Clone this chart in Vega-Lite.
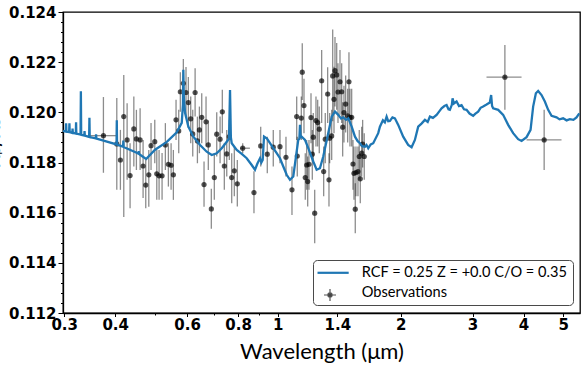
{
  "$schema": "https://vega.github.io/schema/vega-lite/v6.json",
  "width": 517,
  "height": 301,
  "autosize": "none",
  "padding": {"left": 63, "top": 12, "right": 6, "bottom": 58},
  "background": "white",
  "config": {"view": {"stroke": "black", "strokeWidth": 1.3}, "font": "DejaVu Sans", "axis": {"labelOverlap": false, "grid": false}},
  "resolve": {"axis": {"x": "independent", "y": "independent"}, "scale": {"color": "independent"}, "legend": {"color": "independent"}},
  "datasets": {
    "model": [
      {"w":0.298,"v":0.11926},{"w":0.301,"v":0.11924},{"w":0.3028,"v":0.11923},{"w":0.3033,"v":0.11956},{"w":0.3038,"v":0.11923},
      {"w":0.3085,"v":0.11921},{"w":0.309,"v":0.11956},{"w":0.3095,"v":0.11921},{"w":0.314,"v":0.11918},{"w":0.3145,"v":0.11935},{"w":0.315,"v":0.11918},
      {"w":0.3203,"v":0.11915},{"w":0.3208,"v":0.1196},{"w":0.3213,"v":0.11915},{"w":0.329,"v":0.11911},{"w":0.3296,"v":0.12084},{"w":0.3302,"v":0.1191},
      {"w":0.336,"v":0.11907},{"w":0.3365,"v":0.11925},{"w":0.337,"v":0.11907},{"w":0.3453,"v":0.11902},{"w":0.3459,"v":0.11978},{"w":0.3465,"v":0.11901},
      {"w":0.3585,"v":0.11896},{"w":0.3591,"v":0.11912},{"w":0.3597,"v":0.11895},{"w":0.3673,"v":0.11891},{"w":0.403,"v":0.11872},{"w":0.4036,"v":0.11968},{"w":0.4042,"v":0.11871},
      {"w":0.4111,"v":0.11867},{"w":0.4182,"v":0.11863},{"w":0.4188,"v":0.11888},{"w":0.4194,"v":0.11862},{"w":0.45,"v":0.1184},{"w":0.4562,"v":0.11835},{"w":0.4568,"v":0.11845},{"w":0.4574,"v":0.11834},
      {"w":0.4603,"v":0.11831},{"w":0.4762,"v":0.11814},{"w":0.5008,"v":0.11851},{"w":0.5352,"v":0.11882},{"w":0.566,"v":0.1192},{"w":0.5821,"v":0.11958},{"w":0.586,"v":0.1203},{"w":0.5874,"v":0.1217},{"w":0.589,"v":0.1206},
      {"w":0.5931,"v":0.11998},{"w":0.6042,"v":0.11943},{"w":0.6216,"v":0.11903},{"w":0.6454,"v":0.1187},{"w":0.6701,"v":0.11843},{"w":0.6894,"v":0.1183},{"w":0.7091,"v":0.11837},{"w":0.7294,"v":0.11857},
      {"w":0.7503,"v":0.11883},{"w":0.76,"v":0.11895},{"w":0.7643,"v":0.12089},{"w":0.768,"v":0.119},{"w":0.7716,"v":0.11877},{"w":0.7937,"v":0.1185},{"w":0.8164,"v":0.11834},{"w":0.8396,"v":0.11817},
      {"w":0.8637,"v":0.1179},{"w":0.8798,"v":0.11771},{"w":0.8915,"v":0.11795},{"w":0.9052,"v":0.11817},{"w":0.912,"v":0.118},{"w":0.919,"v":0.1181},{"w":0.9258,"v":0.11903},{"w":0.9414,"v":0.11895},
      {"w":0.9576,"v":0.11877},{"w":0.9755,"v":0.11857},{"w":0.9944,"v":0.11837},{"w":1.013,"v":0.11817},{"w":1.0321,"v":0.11784},{"w":1.052,"v":0.11751},{"w":1.0717,"v":0.11731},{"w":1.0918,"v":0.11744},
      {"w":1.1087,"v":0.11824},{"w":1.123,"v":0.1189},{"w":1.13,"v":0.11895},{"w":1.134,"v":0.1195},{"w":1.138,"v":0.119},{"w":1.1449,"v":0.11903},{"w":1.1664,"v":0.1189},{"w":1.1884,"v":0.11857},
      {"w":1.2222,"v":0.11804},{"w":1.2457,"v":0.11771},{"w":1.269,"v":0.11777},{"w":1.2929,"v":0.11824},{"w":1.3297,"v":0.11917},{"w":1.3561,"v":0.11983},{"w":1.3814,"v":0.12003},{"w":1.4074,"v":0.1199},
      {"w":1.43,"v":0.11975},{"w":1.4475,"v":0.1198},{"w":1.47,"v":0.1197},{"w":1.4889,"v":0.11976},{"w":1.5178,"v":0.11943},{"w":1.5463,"v":0.11903},{"w":1.57,"v":0.11885},{"w":1.5905,"v":0.11877},
      {"w":1.61,"v":0.11865},{"w":1.6358,"v":0.11863},{"w":1.65,"v":0.1187},{"w":1.6665,"v":0.11857},{"w":1.69,"v":0.11872},{"w":1.7139,"v":0.11877},{"w":1.7628,"v":0.11917},{"w":1.7798,"v":0.11943},
      {"w":1.81,"v":0.11968},{"w":1.83,"v":0.1196},{"w":1.8483,"v":0.11983},{"w":1.865,"v":0.11965},{"w":1.8829,"v":0.11966},{"w":1.91,"v":0.1198},{"w":1.9368,"v":0.11976},{"w":1.9733,"v":0.1195},
      {"w":2.0293,"v":0.11903},{"w":2.0871,"v":0.1187},{"w":2.1277,"v":0.11861},{"w":2.1677,"v":0.1189},{"w":2.2085,"v":0.11943},{"w":2.25,"v":0.11955},{"w":2.2938,"v":0.1197},{"w":2.33,"v":0.11962},
      {"w":2.3593,"v":0.11983},{"w":2.4,"v":0.11978},{"w":2.45,"v":0.1199},{"w":2.49,"v":0.12005},{"w":2.5197,"v":0.12016},{"w":2.56,"v":0.12025},{"w":2.5917,"v":0.12029},{"w":2.62,"v":0.12012},
      {"w":2.6405,"v":0.1201},{"w":2.67,"v":0.1203},{"w":2.681,"v":0.12056},{"w":2.7,"v":0.12035},{"w":2.7422,"v":0.12043},{"w":2.78,"v":0.12025},{"w":2.8202,"v":0.12029},{"w":2.86,"v":0.12012},
      {"w":2.901,"v":0.1201},{"w":2.95,"v":0.11995},{"w":3.0108,"v":0.11986},{"w":3.05,"v":0.11995},{"w":3.0966,"v":0.12003},{"w":3.14,"v":0.12018},{"w":3.1853,"v":0.12023},{"w":3.24,"v":0.1203},
      {"w":3.3077,"v":0.12039},{"w":3.3323,"v":0.12069},{"w":3.35,"v":0.12025},{"w":3.37,"v":0.12016},{"w":3.4674,"v":0.1201},{"w":3.5661,"v":0.1199},{"w":3.6681,"v":0.1195},{"w":3.7726,"v":0.11917},
      {"w":3.8803,"v":0.11893},{"w":3.9561,"v":0.11886},{"w":4.069,"v":0.11901},{"w":4.1618,"v":0.1193},{"w":4.223,"v":0.12023},{"w":4.2884,"v":0.12076},{"w":4.3442,"v":0.12085},{"w":4.428,"v":0.12069},
      {"w":4.5112,"v":0.12043},{"w":4.5961,"v":0.1201},{"w":4.6848,"v":0.11986},{"w":4.8183,"v":0.1198},{"w":4.9,"v":0.11972},{"w":5.0003,"v":0.11976},{"w":5.1,"v":0.11968},{"w":5.1929,"v":0.11973},
      {"w":5.3,"v":0.1197},{"w":5.3929,"v":0.1198},{"w":5.478,"v":0.11996}
    ],
    "obs": [
      {"w":0.3743,"v":0.11907,"lo":0.11759,"hi":0.12061,"wlo":0.3472,"whi":0.4036},
      {"w":0.4036,"v":0.11874,"lo":0.11691,"hi":0.12057},
      {"w":0.4119,"v":0.1181,"lo":0.11691,"hi":0.1193},
      {"w":0.4198,"v":0.11983,"lo":0.11583,"hi":0.12149},
      {"w":0.4278,"v":0.1189,"lo":0.11731,"hi":0.12036},
      {"w":0.435,"v":0.11748,"lo":0.11618,"hi":0.11877},
      {"w":0.4443,"v":0.11934,"lo":0.11784,"hi":0.12063},
      {"w":0.4508,"v":0.11894,"lo":0.1177,"hi":0.1201},
      {"w":0.4603,"v":0.1189,"lo":0.1177,"hi":0.12016},
      {"w":0.4681,"v":0.11786,"lo":0.11658,"hi":0.1189},
      {"w":0.4752,"v":0.1171,"lo":0.11618,"hi":0.1181},
      {"w":0.4834,"v":0.11751,"lo":0.11624,"hi":0.1185},
      {"w":0.4896,"v":0.11867,"lo":0.1177,"hi":0.11957},
      {"w":0.5,"v":0.11883,"lo":0.11797,"hi":0.1197},
      {"w":0.5057,"v":0.11755,"lo":0.11651,"hi":0.1185},
      {"w":0.5123,"v":0.11747,"lo":0.11651,"hi":0.1185},
      {"w":0.521,"v":0.11747,"lo":0.11651,"hi":0.11838},
      {"w":0.5308,"v":0.1187,"lo":0.1177,"hi":0.11957},
      {"w":0.5399,"v":0.11793,"lo":0.11704,"hi":0.11877},
      {"w":0.5482,"v":0.11789,"lo":0.11691,"hi":0.11877},
      {"w":0.5553,"v":0.11751,"lo":0.11651,"hi":0.1185},
      {"w":0.5637,"v":0.1197,"lo":0.1189,"hi":0.1205},
      {"w":0.5723,"v":0.11926,"lo":0.11837,"hi":0.1201},
      {"w":0.5775,"v":0.12082,"lo":0.12002,"hi":0.1216},
      {"w":0.5874,"v":0.12116,"lo":0.12023,"hi":0.12213},
      {"w":0.5963,"v":0.12079,"lo":0.11982,"hi":0.12181},
      {"w":0.6042,"v":0.12039,"lo":0.11938,"hi":0.12141},
      {"w":0.6124,"v":0.11974,"lo":0.11877,"hi":0.12063},
      {"w":0.6194,"v":0.11914,"lo":0.11824,"hi":0.1201},
      {"w":0.6277,"v":0.12079,"lo":0.11983,"hi":0.12176},
      {"w":0.6359,"v":0.11886,"lo":0.11797,"hi":0.11983},
      {"w":0.6431,"v":0.1193,"lo":0.11837,"hi":0.12023},
      {"w":0.6516,"v":0.1198,"lo":0.11877,"hi":0.12076},
      {"w":0.6601,"v":0.11712,"lo":0.11624,"hi":0.11804},
      {"w":0.6676,"v":0.11962,"lo":0.11864,"hi":0.12063},
      {"w":0.6762,"v":0.1187,"lo":0.1177,"hi":0.11967},
      {"w":0.6878,"v":0.11615,"lo":0.11536,"hi":0.11695},
      {"w":0.6995,"v":0.1174,"lo":0.11651,"hi":0.11837},
      {"w":0.7091,"v":0.11913,"lo":0.11824,"hi":0.12},
      {"w":0.7226,"v":0.11893,"lo":0.11797,"hi":0.11983},
      {"w":0.7318,"v":0.12002,"lo":0.11917,"hi":0.1209},
      {"w":0.7401,"v":0.11786,"lo":0.11691,"hi":0.11877},
      {"w":0.7503,"v":0.11834,"lo":0.11744,"hi":0.1193},
      {"w":0.7613,"v":0.11903,"lo":0.1181,"hi":0.1197},
      {"w":0.7716,"v":0.1174,"lo":0.11638,"hi":0.11837},
      {"w":0.783,"v":0.11767,"lo":0.11665,"hi":0.11863},
      {"w":0.7964,"v":0.11715,"lo":0.11625,"hi":0.1181},
      {"w":0.8209,"v":0.11857,"lo":0.11837,"hi":0.11877,"wlo":0.809,"whi":0.855},
      {"w":0.8748,"v":0.1168,"lo":0.11598,"hi":0.11765},
      {"w":0.9087,"v":0.11866,"lo":0.11784,"hi":0.11943},
      {"w":0.943,"v":0.11833,"lo":0.11757,"hi":0.11903},
      {"w":0.9754,"v":0.11861,"lo":0.11784,"hi":0.1193},
      {"w":1.013,"v":0.11863,"lo":0.11797,"hi":0.1193},
      {"w":1.0478,"v":0.11821,"lo":0.11744,"hi":0.11903},
      {"w":1.0839,"v":0.11691,"lo":0.11591,"hi":0.11784},
      {"w":1.1131,"v":0.11983,"lo":0.1189,"hi":0.12063},
      {"w":1.1168,"v":0.11826,"lo":0.11744,"hi":0.11903},
      {"w":1.1424,"v":0.11977,"lo":0.1189,"hi":0.12063},
      {"w":1.1486,"v":0.1216,"lo":0.12049,"hi":0.12275},
      {"w":1.1598,"v":0.12027,"lo":0.11917,"hi":0.12134},
      {"w":1.1683,"v":0.1174,"lo":0.11651,"hi":0.11837},
      {"w":1.1776,"v":0.1179,"lo":0.11691,"hi":0.1189},
      {"w":1.1843,"v":0.11724,"lo":0.11625,"hi":0.11824},
      {"w":1.193,"v":0.11793,"lo":0.11691,"hi":0.1189},
      {"w":1.2066,"v":0.11979,"lo":0.11877,"hi":0.12076},
      {"w":1.2155,"v":0.11833,"lo":0.11731,"hi":0.1193},
      {"w":1.2223,"v":0.11901,"lo":0.11797,"hi":0.11997},
      {"w":1.2321,"v":0.11598,"lo":0.11478,"hi":0.11691},
      {"w":1.241,"v":0.11967,"lo":0.11864,"hi":0.12063},
      {"w":1.2529,"v":0.11959,"lo":0.11864,"hi":0.1205},
      {"w":1.2642,"v":0.11933,"lo":0.11837,"hi":0.12023},
      {"w":1.2814,"v":0.12126,"lo":0.11957,"hi":0.12249},
      {"w":1.296,"v":0.11764,"lo":0.11665,"hi":0.11864},
      {"w":1.3077,"v":0.11893,"lo":0.11797,"hi":0.11997},
      {"w":1.3255,"v":0.12073,"lo":0.11957,"hi":0.1218},
      {"w":1.3354,"v":0.11731,"lo":0.11625,"hi":0.11837},
      {"w":1.3406,"v":0.11897,"lo":0.11797,"hi":0.11997},
      {"w":1.3559,"v":0.11906,"lo":0.1181,"hi":0.1201},
      {"w":1.3636,"v":0.12145,"lo":0.11964,"hi":0.1233},
      {"w":1.3737,"v":0.12052,"lo":0.11917,"hi":0.12182},
      {"w":1.3814,"v":0.12166,"lo":0.12023,"hi":0.123},
      {"w":1.3947,"v":0.12149,"lo":0.1201,"hi":0.12276},
      {"w":1.405,"v":0.12081,"lo":0.11957,"hi":0.12196},
      {"w":1.4209,"v":0.12122,"lo":0.1199,"hi":0.12249},
      {"w":1.4344,"v":0.12082,"lo":0.11957,"hi":0.12196},
      {"w":1.4426,"v":0.11941,"lo":0.11824,"hi":0.1204},
      {"w":1.4533,"v":0.11999,"lo":0.1188,"hi":0.12106},
      {"w":1.4671,"v":0.12033,"lo":0.1192,"hi":0.12147},
      {"w":1.4837,"v":0.11986,"lo":0.1188,"hi":0.12094},
      {"w":1.4947,"v":0.12122,"lo":0.1199,"hi":0.1224},
      {"w":1.5031,"v":0.1198,"lo":0.11864,"hi":0.12094},
      {"w":1.5177,"v":0.1198,"lo":0.11864,"hi":0.12094},
      {"w":1.5289,"v":0.11794,"lo":0.11691,"hi":0.1189},
      {"w":1.5374,"v":0.11757,"lo":0.11651,"hi":0.11864},
      {"w":1.5488,"v":0.11614,"lo":0.11518,"hi":0.11717},
      {"w":1.5549,"v":0.1176,"lo":0.11665,"hi":0.11864},
      {"w":1.5725,"v":0.11764,"lo":0.11665,"hi":0.11864},
      {"w":1.5841,"v":0.11824,"lo":0.11731,"hi":0.1193},
      {"w":1.5932,"v":0.11735,"lo":0.11638,"hi":0.11837},
      {"w":1.6057,"v":0.11837,"lo":0.11744,"hi":0.11943},
      {"w":1.6145,"v":0.11873,"lo":0.1178,"hi":0.1197},
      {"w":1.6292,"v":0.11824,"lo":0.11731,"hi":0.11917},
      {"w":3.6008,"v":0.1214,"lo":0.1201,"hi":0.12268,"wlo":3.2462,"whi":3.9557},
      {"w":4.4935,"v":0.1189,"lo":0.1177,"hi":0.1201,"wlo":4.0685,"whi":4.9555}
    ]
  },
  "layer": [
    {
      "data": {"name": "obs"},
      "mark": {"type": "rule", "color": "black", "opacity": 0.45, "strokeWidth": 1.3},
      "encoding": {
        "x": {
          "field": "w", "type": "quantitative",
          "scale": {"type": "log", "domain": [0.298, 5.5], "nice": false},
          "axis": {
            "orient": "bottom",
            "title": "Wavelength (μm)", "titleFont": "Lato", "titleFontSize": 22, "titleFontWeight": "normal", "titleColor": "black",
            "titleY": 45, "titleBaseline": "alphabetic",
            "values": [0.3, 0.4, 0.6, 0.8, 1, 1.4, 2, 3, 4, 5], "format": "~g",
            "labelFont": "DejaVu Sans", "labelFontWeight": "bold", "labelFontSize": 15, "labelColor": "black",
            "labelPadding": 1, "labelFlush": false, "labelOverlap": false,
            "tickColor": "black", "tickSize": 3.5, "tickWidth": 1,
            "domainColor": "black", "domainWidth": 1.3, "grid": false
          }
        },
        "y": {
          "field": "lo", "type": "quantitative",
          "scale": {"domain": [0.112, 0.124], "nice": false, "zero": false},
          "axis": {
            "orient": "left",
            "title": "Rₚ/Rₛ", "titleFont": "DejaVu Sans", "titleFontSize": 20, "titleFontWeight": "normal", "titleColor": "black",
            "titleAngle": 270, "titleX": -64, "titleY": 131, "titleBaseline": "alphabetic", "titleAlign": "center",
            "values": [0.112, 0.114, 0.116, 0.118, 0.12, 0.122, 0.124], "format": ".3f",
            "labelFont": "DejaVu Sans", "labelFontWeight": "bold", "labelFontSize": 15, "labelColor": "black",
            "labelPadding": 2, "labelOverlap": false, "labelFlush": false,
            "tickColor": "black", "tickSize": 5, "tickWidth": 1,
            "domainColor": "black", "domainWidth": 1.3, "grid": false
          }
        },
        "y2": {"field": "hi"}
      }
    },
    {
      "data": {"name": "obs"},
      "transform": [{"filter": "isValid(datum.wlo)"}],
      "mark": {"type": "rule", "color": "black", "opacity": 0.45, "strokeWidth": 1.3},
      "encoding": {
        "x": {"field": "wlo", "type": "quantitative", "axis": null},
        "x2": {"field": "whi"},
        "y": {"field": "v", "type": "quantitative", "axis": null}
      }
    },
    {
      "data": {"name": "obs"},
      "mark": {"type": "point", "filled": true, "size": 27, "opacity": 0.68},
      "encoding": {
        "x": {
          "field": "w", "type": "quantitative",
          "axis": {"orient": "bottom", "values": [0.5, 0.7, 0.9], "labels": false, "domain": false, "title": null, "tickColor": "black", "tickSize": 2, "tickWidth": 1, "grid": false}
        },
        "y": {
          "field": "v", "type": "quantitative",
          "axis": {"orient": "left", "values": [0.1124, 0.1128, 0.1132, 0.1136, 0.1144, 0.1148, 0.1152, 0.1156, 0.1164, 0.1168, 0.1172, 0.1176, 0.1184, 0.1188, 0.1192, 0.1196, 0.1204, 0.1208, 0.1212, 0.1216, 0.1224, 0.1228, 0.1232, 0.1236], "labels": false, "domain": false, "title": null, "tickColor": "black", "tickSize": 2.5, "tickWidth": 1, "grid": false}
        },
        "color": {
          "datum": "Observations", "type": "nominal",
          "scale": {"domain": ["Observations"], "range": ["black"]},
          "legend": {
            "orient": "none", "legendX": 260, "legendY": 276, "title": null, "zindex": 2,
            "labelFontSize": 10, "labelOpacity": 0, "labelLimit": 5,
            "padding": 0, "symbolOffset": 0,
            "symbolType": "M-1,0H1M0,-1V1M0.35,0A0.35,0.35,0,1,1,-0.35,0A0.35,0.35,0,1,1,0.35,0Z",
            "symbolSize": 144, "symbolStrokeColor": "#555555", "symbolStrokeWidth": 1.2, "symbolOpacity": 1
          }
        }
      }
    },
    {
      "data": {"name": "model"},
      "mark": {"type": "line", "strokeWidth": 2.3, "interpolate": "linear"},
      "encoding": {
        "x": {"field": "w", "type": "quantitative", "axis": null},
        "y": {"field": "v", "type": "quantitative", "axis": null},
        "color": {
          "datum": "RCF = 0.25 Z = +0.0 C/O = 0.35", "type": "nominal",
          "scale": {"domain": ["RCF = 0.25 Z = +0.0 C/O = 0.35", "Observations"], "range": ["#1f77b4", "transparent"]},
          "legend": {
            "orient": "none", "legendX": 250, "legendY": 248, "title": null, "direction": "vertical", "zindex": 1,
            "labelFont": "Lato", "labelFontSize": 14.6, "labelColor": "black", "labelLimit": 400,
            "padding": 5.5, "rowPadding": 5, "symbolOffset": 7.3, "labelOffset": 21.3,
            "symbolType": "M-3,0H3", "symbolSize": 108, "symbolStrokeWidth": 2.2, "symbolOpacity": 1,
            "strokeColor": "#4a4a4a", "cornerRadius": 4
          }
        }
      }
    }
  ]
}
